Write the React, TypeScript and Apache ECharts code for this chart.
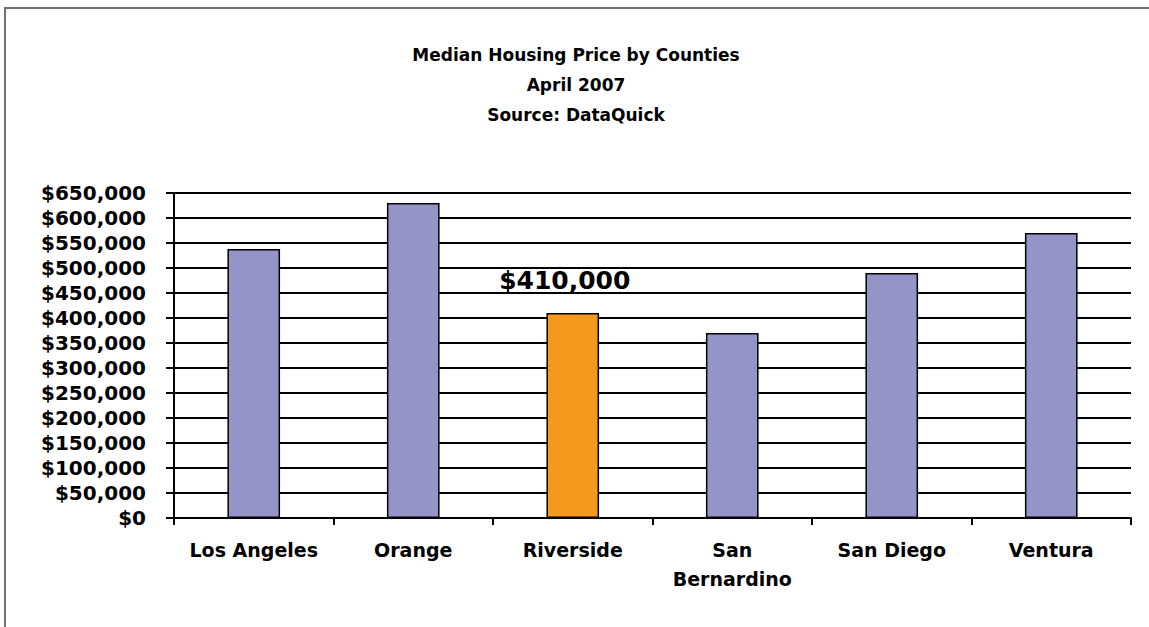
import React, { useEffect, useRef } from "react";
import * as echarts from "echarts";

const categories = ["Los Angeles", "Orange", "Riverside", "San\nBernardino", "San Diego", "Ventura"];
const prices = [538000, 630000, 410000, 370000, 490000, 570000];
const highlightIndex = 2;
const titleLines = ["Median Housing Price by Counties", "April 2007", "Source: DataQuick"];

const FONT = "'DejaVu Sans', 'Liberation Sans', Arial, sans-serif";

function fmt(v: number): string {
  return "$" + v.toString().replace(/\B(?=(\d{3})+(?!\d))/g, ",");
}

export default function App() {
  const ref = useRef<HTMLDivElement>(null);
  useEffect(() => {
    document.body.style.margin = "0";
    const chart = echarts.init(ref.current!, undefined, { renderer: "svg" });
    chart.setOption({
      animation: false,
      backgroundColor: "#ffffff",
      title: {
        text: titleLines.join("\n"),
        left: 571,
        top: 35,
        textAlign: "center",
        textStyle: { fontFamily: FONT, fontWeight: "bold", fontSize: 17, lineHeight: 30, color: "#000" },
      },
      graphic: [
        {
          type: "rect",
          shape: { x: 5, y: 8, width: 1300, height: 800 },
          style: { fill: "none", stroke: "#707070", lineWidth: 2 },
          silent: true,
        },
      ],
      grid: { left: 174, right: 18, top: 193, bottom: 109, containLabel: false },
      xAxis: {
        type: "category",
        data: categories,
        boundaryGap: true,
        axisLine: { lineStyle: { color: "#000", width: 2 } },
        axisTick: { show: true, alignWithLabel: false, length: 7, lineStyle: { color: "#000", width: 2 } },
        axisLabel: {
          interval: 0,
          margin: 17,
          fontFamily: FONT,
          fontWeight: "bold",
          fontSize: 19,
          lineHeight: 29,
          color: "#000",
        },
      },
      yAxis: {
        type: "value",
        min: 0,
        max: 650000,
        interval: 50000,
        axisLine: { show: true, lineStyle: { color: "#000", width: 2 } },
        axisTick: { show: true, length: 8, lineStyle: { color: "#000", width: 2 } },
        splitLine: { show: true, lineStyle: { color: "#000", width: 2 } },
        axisLabel: {
          margin: 28,
          fontFamily: FONT,
          fontWeight: "bold",
          fontSize: 20,
          color: "#000",
          formatter: (v: number) => fmt(v),
        },
      },
      series: [
        {
          type: "bar",
          barWidth: "33%",
          data: prices.map((v, i) => ({
            value: v,
            itemStyle: { color: i === highlightIndex ? "#F5991E" : "#9494C8" },
            label:
              i === highlightIndex
                ? {
                    show: true,
                    position: "top",
                    distance: 20,
                    offset: [-8, 0],
                    formatter: (p: any) => fmt(p.value),
                    fontFamily: FONT,
                    fontWeight: "bold",
                    fontSize: 25,
                    color: "#000",
                  }
                : { show: false },
          })),
          itemStyle: { borderColor: "#000", borderWidth: 1.5 },
        },
      ],
    });
    return () => chart.dispose();
  }, []);
  return <div ref={ref} style={{ width: 1149, height: 627 }} />;
}
